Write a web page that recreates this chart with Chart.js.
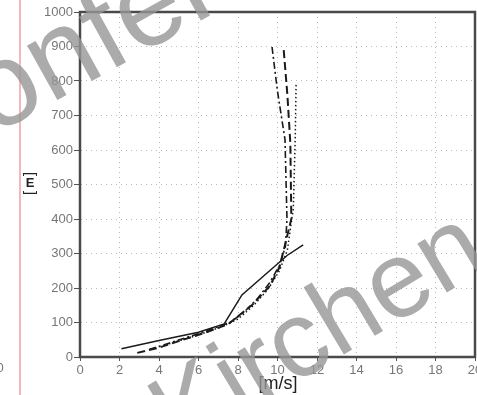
<!DOCTYPE html>
<html>
<head>
<meta charset="utf-8">
<script src="https://cdn.jsdelivr.net/npm/chart.js@4/dist/chart.umd.min.js"></script>
<style>
  html, body { margin: 0; padding: 0; background: #fff; }
  #wrap { width: 477px; height: 395px; position: relative; }
</style>
</head>
<body>
<div id="wrap"><canvas id="energyChart" width="477" height="395"></canvas></div>
<script>
// speed [m/s] and energy [E] for the four runs
const solidSpeed = [2.1, 4.0, 6.0, 7.3, 8.2, 9.5, 10.5, 11.3];
const solidE     = [24, 48, 72, 96, 180, 245, 295, 325];

const dashSpeed = [2.9, 4.0, 5.1, 6.2, 7.5, 8.7, 9.6, 10.1, 10.4, 10.7, 10.65, 10.5, 10.3];
const dashE     = [12, 27, 48, 68, 95, 150, 205, 260, 330, 400, 620, 760, 900];

const dashDotSpeed = [3.5, 4.5, 6.0, 7.6, 8.3, 9.0, 9.6, 10.1, 10.4, 10.48, 10.38, 10.0, 9.72];
const dashDotE     = [22, 40, 68, 100, 130, 170, 215, 265, 320, 400, 630, 770, 900];

const dotSpeed = [4.5, 6.0, 7.2, 8.0, 8.8, 9.5, 10.1, 10.5, 10.8, 10.9, 10.94];
const dotE     = [38, 64, 88, 110, 150, 195, 250, 310, 430, 640, 790];

const xTicks = [0, 2, 4, 6, 8, 10, 12, 14, 16, 18, 20];
const yTicks = [0, 100, 200, 300, 400, 500, 600, 700, 800, 900, 1000];

function toPoints(xs, ys) {
  return xs.map((x, i) => ({ x: x, y: ys[i] }));
}

function series(xs, ys, dash, width) {
  return {
    data: toPoints(xs, ys),
    showLine: true,
    borderColor: '#1a1a1a',
    borderWidth: width,
    borderDash: dash,
    pointRadius: 0,
    tension: 0
  };
}

function slanted(ctx, text, x, y, deg, size) {
  ctx.save();
  ctx.font = size + 'px "Liberation Sans", Arial, sans-serif';
  ctx.translate(x, y);
  ctx.rotate(deg * Math.PI / 180);
  ctx.fillText(text, 0, 0);
  ctx.restore();
}

// frame, axis titles, side marker and the faint overlay lettering
const decorations = {
  id: 'decorations',
  afterDraw(chart) {
    const ctx = chart.ctx;
    const a = chart.chartArea;
    ctx.save();

    ctx.strokeStyle = '#4a4a4a';
    ctx.lineWidth = 2.5;
    ctx.strokeRect(a.left, a.top, a.right - a.left, a.bottom - a.top);

    ctx.strokeStyle = '#f2a0a0';
    ctx.lineWidth = 1.5;
    ctx.beginPath();
    ctx.moveTo(20, 0);
    ctx.lineTo(20, 395);
    ctx.stroke();

    ctx.fillStyle = '#777';
    ctx.font = '13px "Liberation Sans", Arial, sans-serif';
    ctx.textAlign = 'center';
    ctx.textBaseline = 'middle';
    ctx.fillText('0', 0, 368);

    ctx.fillStyle = '#222';
    ctx.font = '18px "Liberation Sans", Arial, sans-serif';
    ctx.fillText('[m/s]', 278, 384);

    ctx.font = 'bold 13px "Liberation Sans", Arial, sans-serif';
    ctx.fillText('E', 30, 183);
    ctx.font = '15px "Liberation Sans", Arial, sans-serif';
    ctx.save();
    ctx.translate(30, 174);
    ctx.rotate(-Math.PI / 2);
    ctx.fillText(']', 0, 0);
    ctx.restore();
    ctx.save();
    ctx.translate(30, 193);
    ctx.rotate(-Math.PI / 2);
    ctx.fillText('[', 0, 0);
    ctx.restore();

    ctx.fillStyle = 'rgba(150, 150, 150, 0.8)';
    ctx.textAlign = 'left';
    ctx.textBaseline = 'alphabetic';
    slanted(ctx, 'Konferenz', -76, 174, -29, 118);
    slanted(ctx, 'Kirchen', 178, 454, -31, 108);

    ctx.restore();
  }
};

const gridStyle = {
  color: '#b8b8b8',
  tickColor: '#555',
  lineWidth: 1,
  tickBorderDash: []
};

const tickFont = { family: '"Liberation Sans", Arial, sans-serif', size: 13 };

new Chart(document.getElementById('energyChart').getContext('2d'), {
  type: 'scatter',
  data: {
    datasets: [
      series(solidSpeed, solidE, [], 1.5),
      series(dashSpeed, dashE, [8, 4], 2),
      series(dashDotSpeed, dashDotE, [7, 3, 2, 3], 1.6),
      series(dotSpeed, dotE, [1.5, 2.5], 1.5)
    ]
  },
  options: {
    responsive: false,
    animation: false,
    layout: { autoPadding: false, padding: { top: 12, right: 2, left: 0, bottom: 0 } },
    plugins: { legend: { display: false }, tooltip: { enabled: false } },
    scales: {
      x: {
        type: 'linear',
        min: xTicks[0],
        max: xTicks[xTicks.length - 1],
        afterBuildTicks: s => { s.ticks = xTicks.map(v => ({ value: v })); },
        afterFit: s => { s.height = 38; s.paddingLeft = 0; s.paddingRight = 0; },
        ticks: { color: '#777', font: tickFont, padding: 2, maxRotation: 0, callback: v => String(v) },
        grid: Object.assign({ tickLength: 4 }, gridStyle),
        border: { color: '#4a4a4a', width: 2, dash: [1, 4] }
      },
      y: {
        type: 'linear',
        min: yTicks[0],
        max: yTicks[yTicks.length - 1],
        afterBuildTicks: s => { s.ticks = yTicks.map(v => ({ value: v })); },
        afterFit: s => { s.width = 80; s.paddingTop = 0; s.paddingBottom = 0; },
        ticks: { color: '#777', font: tickFont, padding: 1, callback: v => String(v) },
        grid: Object.assign({ tickLength: 6 }, gridStyle),
        border: { color: '#4a4a4a', width: 2, dash: [1, 4] }
      }
    }
  },
  plugins: [decorations]
});
</script>
</body>
</html>
